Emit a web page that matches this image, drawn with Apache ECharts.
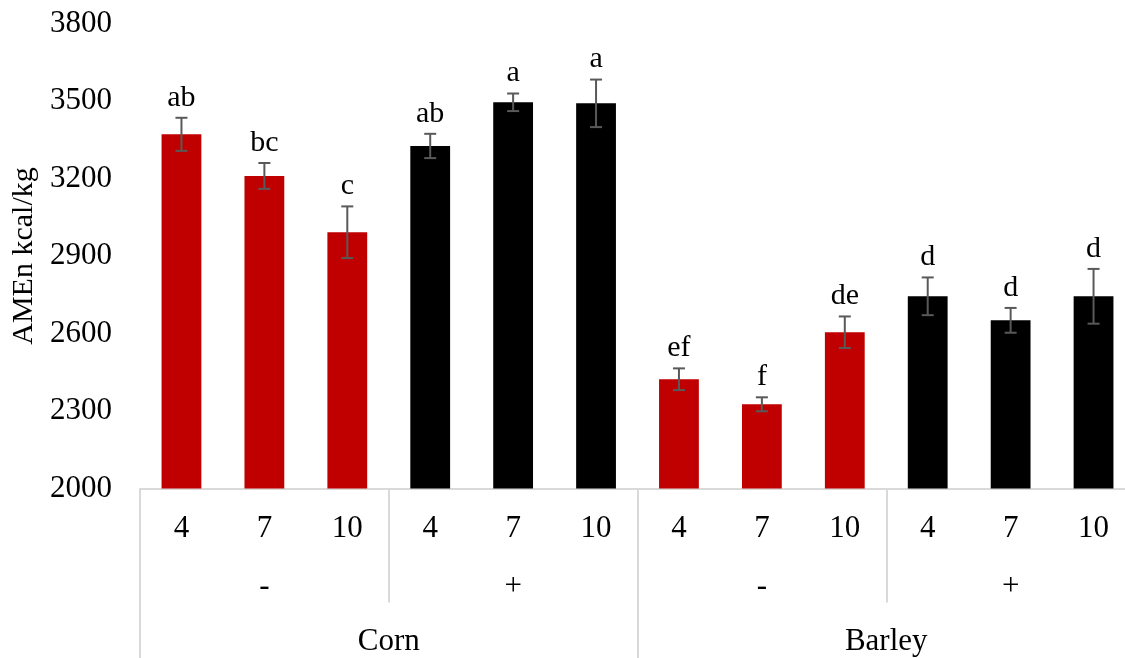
<!DOCTYPE html>
<html>
<head>
<meta charset="utf-8">
<script src="https://cdn.jsdelivr.net/npm/echarts@6/dist/echarts.min.js"></script>
<style>
html,body{margin:0;padding:0;background:#fff;}
#chart{width:1125px;height:658px;}
</style>
</head>
<body>
<div id="chart"></div>
<script>
// ---- data ----
const levelLabels = ['4','7','10','4','7','10','4','7','10','4','7','10'];
const enzymeLabels = ['-','+','-','+'];
const grainLabels = ['Corn','Barley'];
const enzymeOfBar = ['-','-','-','+','+','+','-','-','-','+','+','+'];
const values = [3371, 3210, 2992, 3326, 3495, 3491, 2423, 2326, 2605, 2744, 2651, 2744];
const errors = [64, 50, 100, 47, 34, 92, 42, 27, 61, 73, 48, 106];
const letters = ['ab','bc','c','ab','a','a','ef','f','de','d','d','d'];
const yTicks = {min: 2000, max: 3800, interval: 300};

// ---- style ----
const FONT = '"Liberation Serif", "Times New Roman", serif';
const RED = '#C00000';
const BLACK = '#000000';
const GRID_LINE = '#D9D9D9';
const ERR = '#595959';

const chart = echarts.init(document.getElementById('chart'), null, {renderer: 'canvas'});

const barData = values.map((v, i) => ({
  value: v,
  itemStyle: {color: enzymeOfBar[i] === '-' ? RED : BLACK}
}));
const errData = values.map((v, i) => [i, v, errors[i]]);

const option = {
  animation: false,
  backgroundColor: '#fff',
  grid: {left: 140, right: -10, top: 23.5, bottom: 169.5, containLabel: false, outerBoundsMode: 'none'},
  xAxis: [
    {
      type: 'category', data: levelLabels, position: 'bottom',
      axisLine: {show: true, lineStyle: {color: GRID_LINE, width: 2}},
      axisTick: {show: false},
      axisLabel: {margin: 25, fontFamily: FONT, fontSize: 31, color: '#000', interval: 0},
      splitLine: {show: false}
    },
    {
      type: 'category', data: enzymeLabels, position: 'bottom',
      axisLine: {show: false},
      axisTick: {show: true, length: 114, lineStyle: {color: GRID_LINE, width: 2}},
      axisLabel: {margin: 83, fontFamily: FONT, fontSize: 31, color: '#000', interval: 0},
      splitLine: {show: false}
    },
    {
      type: 'category', data: grainLabels, position: 'bottom',
      axisLine: {show: false},
      axisTick: {show: true, length: 175, lineStyle: {color: GRID_LINE, width: 2}},
      axisLabel: {margin: 138, fontFamily: FONT, fontSize: 31, color: '#000', interval: 0},
      splitLine: {show: false}
    }
  ],
  yAxis: {
    type: 'value', min: yTicks.min, max: yTicks.max, interval: yTicks.interval,
    name: 'AMEn kcal/kg', nameLocation: 'middle', nameGap: 97, nameRotate: 90,
    nameTextStyle: {fontFamily: FONT, fontSize: 30, color: '#000'},
    axisLine: {show: false}, axisTick: {show: false},
    axisLabel: {margin: 28, fontFamily: FONT, fontSize: 31, color: '#000',
      formatter: function (v) { return String(v); }},
    splitLine: {show: false}
  },
  series: [
    {
      type: 'bar', xAxisIndex: 0, data: barData,
      barCategoryGap: '52%'
    },
    {
      type: 'custom', xAxisIndex: 0, data: errData, z: 5,
      renderItem: function (params, api) {
        const x = api.value(0), v = api.value(1), e = api.value(2);
        const hi = api.coord([x, v + e]);
        const lo = api.coord([x, v - e]);
        const h = 6;
        const st = {stroke: ERR, lineWidth: 2};
        return {
          type: 'group',
          children: [
            {type: 'line', shape: {x1: hi[0], y1: hi[1], x2: lo[0], y2: lo[1]}, style: st},
            {type: 'line', shape: {x1: hi[0] - h, y1: hi[1], x2: hi[0] + h, y2: hi[1]}, style: st},
            {type: 'line', shape: {x1: lo[0] - h, y1: lo[1], x2: lo[0] + h, y2: lo[1]}, style: st},
            {type: 'text', style: {
              text: letters[params.dataIndex], x: hi[0], y: hi[1] - 5,
              align: 'center', verticalAlign: 'bottom',
              font: '30px ' + FONT, fill: '#000'
            }}
          ]
        };
      }
    }
  ]
};
chart.setOption(option);
</script>
</body>
</html>
